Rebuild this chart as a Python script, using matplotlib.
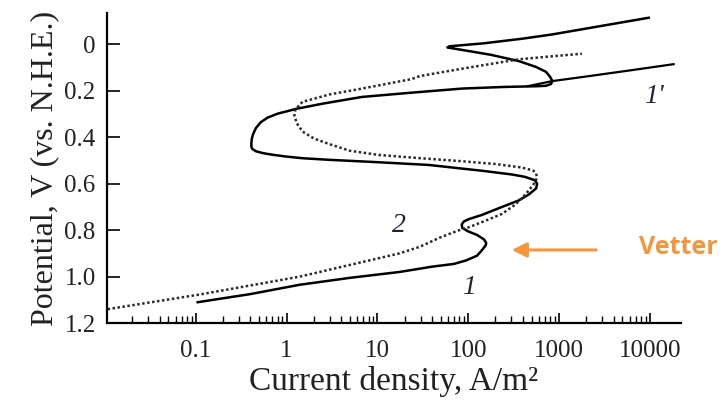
import matplotlib
matplotlib.use("Agg")
import matplotlib.pyplot as plt
from matplotlib.ticker import FixedLocator, NullFormatter

# curve 1 (solid): current density (A/m2), potential (V)
c1_i = [0.105, 0.4, 1.39, 5, 17.4, 40, 70, 95, 125, 142, 156, 158, 150, 125, 100, 86,
        85, 90, 102, 140, 235, 360, 470, 560, 575, 545, 420, 303, 150, 37, 10,
        3.0, 1.5, 1.0, 0.7, 0.55, 0.46, 0.42, 0.41, 0.41, 0.415, 0.43, 0.46, 0.52, 0.62, 0.8, 1.29, 2.5,
        6.8, 25, 86, 250, 560, 720, 820, 845, 800, 720, 560, 363, 180,
        90, 59, 62, 150, 400, 840, 2500, 9750]
c1_v = [1.11, 1.075, 1.035, 1.005, 0.98, 0.957, 0.945, 0.93, 0.91, 0.886, 0.865, 0.855, 0.84, 0.82, 0.805, 0.79,
        0.775, 0.762, 0.752, 0.735, 0.70, 0.672, 0.645, 0.62, 0.60, 0.585, 0.57, 0.56, 0.545, 0.519, 0.507,
        0.497, 0.49, 0.483, 0.475, 0.468, 0.46, 0.45, 0.44, 0.425, 0.405, 0.385, 0.36, 0.335, 0.315, 0.298, 0.277, 0.255,
        0.226, 0.207, 0.19, 0.183, 0.18, 0.178, 0.17, 0.157, 0.14, 0.118, 0.097, 0.072, 0.045,
        0.025, 0.013, 0.008, -0.005, -0.025, -0.043, -0.075, -0.115]

# curve 1' (solid)
c1p_i = [450, 840, 2000, 6000, 18300]
c1p_v = [0.18, 0.158, 0.138, 0.112, 0.085]

# curve 2 (dotted)
c2_i = [0.0107, 0.11, 1.39, 17.4, 29, 50, 86, 102, 160, 235, 330, 430, 520, 575,
        560, 520, 390, 200, 86, 30, 10.5, 5, 3, 2.0, 1.5, 1.3, 1.22, 1.25, 1.5,
        3, 6.8, 24, 29.5, 100, 363, 900, 1790]
c2_v = [1.14, 1.077, 1.0, 0.9, 0.872, 0.83, 0.795, 0.787, 0.757, 0.73, 0.69, 0.645, 0.605, 0.574,
        0.555, 0.543, 0.53, 0.515, 0.503, 0.49, 0.476, 0.458, 0.43, 0.405, 0.375, 0.34, 0.306, 0.28, 0.247,
        0.215, 0.19, 0.149, 0.136, 0.1, 0.064, 0.05, 0.04]

x_major = [0.1, 1, 10, 100, 1000, 10000]
x_labels = ['0.1', '1', '10', '100', '1000', '10000']
y_major = [0, 0.2, 0.4, 0.6, 0.8, 1.0, 1.2]
y_labels = ['0', '0.2', '0.4', '0.6', '0.8', '1.0', '1.2']

serif = 'Liberation Serif'
orange = '#F5963F'

fig = plt.figure(figsize=(7.22, 4.09), dpi=100)
ax = fig.add_axes([0.148, 0.21, 0.795, 0.758])

ax.plot(c1_i, c1_v, color='black', lw=1.8, solid_joinstyle='round')
ax.plot(c1p_i, c1p_v, color='black', lw=1.6)
ax.plot(c2_i, c2_v, color='#2a2a2a', lw=1.8, linestyle=(0, (1, 1.0)))

ax.set_xscale('log')
ax.set_xlim(0.0105, 22000)
ax.set_ylim(1.2, -0.135)

minor = [m * 10.0 ** d for d in range(-2, 4) for m in range(2, 10)]
ax.xaxis.set_major_locator(FixedLocator(x_major))
ax.xaxis.set_minor_locator(FixedLocator(minor))
ax.xaxis.set_minor_formatter(NullFormatter())
ax.set_xticks(x_major, x_labels)
ax.set_yticks(y_major, y_labels)

for s in ['top', 'right']:
    ax.spines[s].set_visible(False)
for s in ['left', 'bottom']:
    ax.spines[s].set_linewidth(1.6)

ax.tick_params(axis='x', which='major', direction='in', length=7, width=1.2, pad=12)
ax.tick_params(axis='x', which='minor', direction='in', length=5, width=1.0)
ax.tick_params(axis='y', which='major', direction='in', length=9, width=1.2, pad=8)
for lab in ax.get_xticklabels() + ax.get_yticklabels():
    lab.set_fontfamily(serif)
    lab.set_fontsize(18)
    lab.set_color('#222222')

ax.set_xlabel('Current density, A/m²', fontfamily=serif, fontsize=24, color='#222222', labelpad=3)
ax.set_ylabel('Potential, V (vs. N.H.E.)', fontfamily=serif, fontsize=23, color='#222222', labelpad=4)

ax.text(11000, 0.225, "1'", fontfamily=serif, fontstyle='italic', fontsize=20, color='#222233', ha='center', va='center')
ax.text(17.5, 0.78, '2', fontfamily=serif, fontstyle='italic', fontsize=20, color='#222233', ha='center', va='center')
ax.text(102, 1.045, '1', fontfamily=serif, fontstyle='italic', fontsize=20, color='#222233', ha='center', va='center')

ax.annotate('', xy=(282, 0.885), xytext=(2760, 0.885),
            arrowprops=dict(arrowstyle='-|>', color=orange, lw=2.2, mutation_scale=22))
ax.text(7600, 0.875, 'Vetter', fontfamily='Open Sans', fontweight='bold', fontsize=18,
        color=orange, ha='left', va='center', clip_on=False)

fig.savefig('out.png', dpi=100)
